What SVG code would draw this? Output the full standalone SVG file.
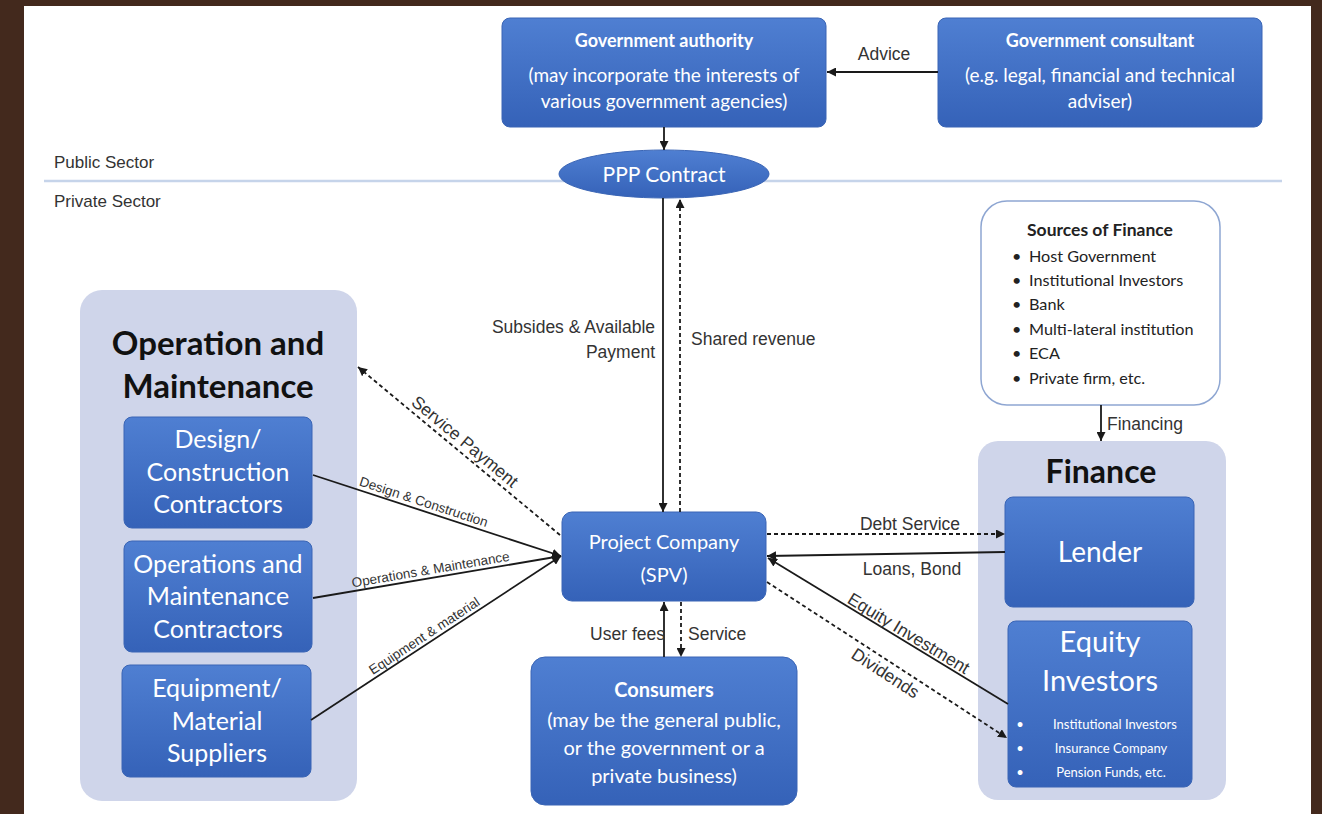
<svg xmlns="http://www.w3.org/2000/svg" width="1322" height="814" viewBox="0 0 1322 814">
<defs>
<linearGradient id="bg" x1="0" y1="0" x2="0" y2="1">
<stop offset="0" stop-color="#4f7fd2"/>
<stop offset="1" stop-color="#3562b8"/>
</linearGradient>
<marker id="ah" viewBox="0 0 10 10" refX="10" refY="5" markerWidth="9" markerHeight="9" markerUnits="userSpaceOnUse" orient="auto">
<path d="M0,0 L10,5 L0,10 z" fill="#1a1a1a"/>
</marker>
<style>
.box{fill:url(#bg);stroke:#3a65b5;stroke-width:1}
.panel{fill:#cfd5ea}
.w{font-family:Lato,"Open Sans",sans-serif;fill:#ffffff;text-anchor:middle}
.wb{font-family:Lato,"Open Sans",sans-serif;fill:#ffffff;text-anchor:middle;font-weight:bold}
.hd{font-family:Lato,"Open Sans",sans-serif;fill:#111111;text-anchor:middle;font-weight:bold}
.dk{font-family:Lato,"Open Sans",sans-serif;fill:#222222}
.lb{font-family:"Liberation Sans",Arial,sans-serif;fill:#333333;font-size:17.5px}
.sm{font-family:"Liberation Sans",Arial,sans-serif;fill:#333333;font-size:13.5px;text-anchor:middle}
.s{stroke:#1a1a1a;stroke-width:1.8;fill:none}
.d{stroke:#1a1a1a;stroke-width:1.8;fill:none;stroke-dasharray:4 3}
</style>
</defs>
<rect x="0" y="0" width="1322" height="814" fill="#43291d"/>
<rect x="24" y="6" width="1287" height="808" fill="#ffffff"/>
<line x1="44" y1="181" x2="1282" y2="181" stroke="#c6d4ea" stroke-width="2.5"/>
<text class="lb" x="54" y="168" style="font-size:17px">Public Sector</text>
<text class="lb" x="54" y="207" style="font-size:17px">Private Sector</text>

<g id="gov-authority">
<rect class="box" x="502" y="18" width="324" height="109" rx="8"/>
<text class="wb" x="664" y="47" font-size="18">Government authority</text>
<text class="w" x="664" y="82" font-size="19">(may incorporate the interests of</text>
<text class="w" x="664" y="108" font-size="19">various government agencies)</text>
</g>
<g id="gov-consultant">
<rect class="box" x="938" y="18" width="324" height="109" rx="8"/>
<text class="wb" x="1100" y="47" font-size="18">Government consultant</text>
<text class="w" x="1100" y="82" font-size="19">(e.g. legal, financial and technical</text>
<text class="w" x="1100" y="108" font-size="19">adviser)</text>
</g>
<g id="ppp-contract">
<ellipse cx="664" cy="174" rx="105" ry="24" fill="url(#bg)" stroke="#3a65b5"/>
<text class="w" x="664" y="182" font-size="21">PPP Contract</text>
</g>

<g id="sources-of-finance">
<rect x="981" y="201" width="239" height="204" rx="26" fill="#ffffff" stroke="#8ea6d2" stroke-width="1.5"/>
<text class="dk" x="1100" y="236" font-size="17.5" font-weight="bold" text-anchor="middle" fill="#111">Sources of Finance</text>
<g class="dk" font-size="16.2">
<text x="1012" y="262">•</text><text x="1029" y="262">Host Government</text>
<text x="1012" y="286">•</text><text x="1029" y="286">Institutional Investors</text>
<text x="1012" y="310">•</text><text x="1029" y="310">Bank</text>
<text x="1012" y="335">•</text><text x="1029" y="335">Multi-lateral institution</text>
<text x="1012" y="359">•</text><text x="1029" y="359">ECA</text>
<text x="1012" y="384">•</text><text x="1029" y="384">Private firm, etc.</text>
</g>
</g>

<g id="finance">
<rect class="panel" x="978" y="441" width="248" height="359" rx="20"/>
<text class="hd" x="1101" y="483" font-size="32">Finance</text>
</g>
<g id="lender">
<rect class="box" x="1005" y="497" width="189" height="110" rx="8"/>
<text class="w" x="1100" y="562" font-size="28">Lender</text>
</g>
<g id="equity-investors">
<rect class="box" x="1008" y="621" width="184" height="166" rx="8"/>
<text class="w" x="1100" y="652" font-size="29">Equity</text>
<text class="w" x="1100" y="691" font-size="29">Investors</text>
<g class="w" font-size="13">
<text x="1020" y="729">•</text><text x="1115" y="729">Institutional Investors</text>
<text x="1020" y="753">•</text><text x="1111" y="753">Insurance Company</text>
<text x="1020" y="777">•</text><text x="1111" y="777">Pension Funds, etc.</text>
</g>
</g>

<g id="operation-maintenance">
<rect class="panel" x="80" y="290" width="277" height="511" rx="22"/>
<text class="hd" x="218" y="355" font-size="33">Operation and</text>
<text class="hd" x="218" y="398" font-size="33">Maintenance</text>
</g>
<g id="design-construction">
<rect class="box" x="124" y="417" width="188" height="111" rx="8"/>
<text class="w" x="218" y="448" font-size="25">Design/</text>
<text class="w" x="218" y="481" font-size="25">Construction</text>
<text class="w" x="218" y="513" font-size="25">Contractors</text>
</g>
<g id="om-contractors">
<rect class="box" x="124" y="541" width="188" height="111" rx="8"/>
<text class="w" x="218" y="573" font-size="25">Operations and</text>
<text class="w" x="218" y="605" font-size="25">Maintenance</text>
<text class="w" x="218" y="638" font-size="25">Contractors</text>
</g>
<g id="suppliers">
<rect class="box" x="122" y="665" width="189" height="112" rx="8"/>
<text class="w" x="217" y="697" font-size="25">Equipment/</text>
<text class="w" x="217" y="730" font-size="25">Material</text>
<text class="w" x="217" y="762" font-size="25">Suppliers</text>
</g>

<g id="project-company">
<rect class="box" x="562" y="512" width="204" height="89" rx="10"/>
<text class="w" x="664" y="549" font-size="20">Project Company</text>
<text class="w" x="664" y="582" font-size="20">(SPV)</text>
</g>
<g id="consumers">
<rect class="box" x="531" y="657" width="266" height="148" rx="14"/>
<text class="wb" x="664" y="697" font-size="20">Consumers</text>
<text class="w" x="664" y="727" font-size="20">(may be the general public,</text>
<text class="w" x="664" y="755" font-size="20">or the government or a</text>
<text class="w" x="664" y="783" font-size="20">private business)</text>
</g>

<g id="connectors">
<line class="s" x1="938" y1="72" x2="827" y2="72" marker-end="url(#ah)"/>
<line class="s" x1="664" y1="127" x2="664" y2="150" marker-end="url(#ah)"/>
<line class="s" x1="663" y1="198" x2="663" y2="512" marker-end="url(#ah)"/>
<line class="d" x1="680" y1="512" x2="680" y2="199" marker-end="url(#ah)"/>
<line class="s" x1="1101" y1="405" x2="1101" y2="441" marker-end="url(#ah)"/>
<line class="d" x1="767" y1="534" x2="1005" y2="534" marker-end="url(#ah)"/>
<line class="s" x1="1005" y1="552" x2="767" y2="556" marker-end="url(#ah)"/>
<line class="s" x1="1008" y1="704" x2="768" y2="558" marker-end="url(#ah)"/>
<line class="d" x1="767" y1="582" x2="1007" y2="738" marker-end="url(#ah)"/>
<line class="d" x1="560" y1="535" x2="358" y2="367" marker-end="url(#ah)"/>
<line class="s" x1="313" y1="475" x2="561" y2="556" marker-end="url(#ah)"/>
<line class="s" x1="313" y1="598" x2="561" y2="556" marker-end="url(#ah)"/>
<line class="s" x1="311" y1="720" x2="561" y2="556" marker-end="url(#ah)"/>
<line class="s" x1="664" y1="657" x2="664" y2="602" marker-end="url(#ah)"/>
<line class="d" x1="681" y1="602" x2="681" y2="657" marker-end="url(#ah)"/>

<text class="lb" x="884" y="60" text-anchor="middle">Advice</text>
<text class="lb" x="655" y="333" text-anchor="end">Subsides &amp; Available</text>
<text class="lb" x="655" y="358" text-anchor="end">Payment</text>
<text class="lb" x="691" y="345">Shared revenue</text>
<text class="lb" x="1107" y="430">Financing</text>
<text class="lb" x="910" y="530" text-anchor="middle">Debt Service</text>
<text class="lb" x="912" y="575" text-anchor="middle">Loans, Bond</text>
<text class="lb" x="665" y="640" text-anchor="end">User fees</text>
<text class="lb" x="688" y="640">Service</text>
<text class="lb" text-anchor="middle" transform="translate(904,641) rotate(31.3)" y="-3">Equity Investment</text>
<text class="lb" text-anchor="middle" transform="translate(892,663) rotate(33)" y="18">Dividends</text>
<text class="lb" text-anchor="middle" transform="translate(458,450) rotate(39.7)" y="-5">Service Payment</text>
<text class="sm" transform="translate(421,510) rotate(18.1)" y="-4">Design &amp; Construction</text>
<text class="sm" transform="translate(432,578) rotate(-9.6)" y="-4">Operations &amp; Maintenance</text>
<text class="sm" transform="translate(429,643) rotate(-33.3)" y="-4">Equipment &amp; material</text>
</g>
</svg>
